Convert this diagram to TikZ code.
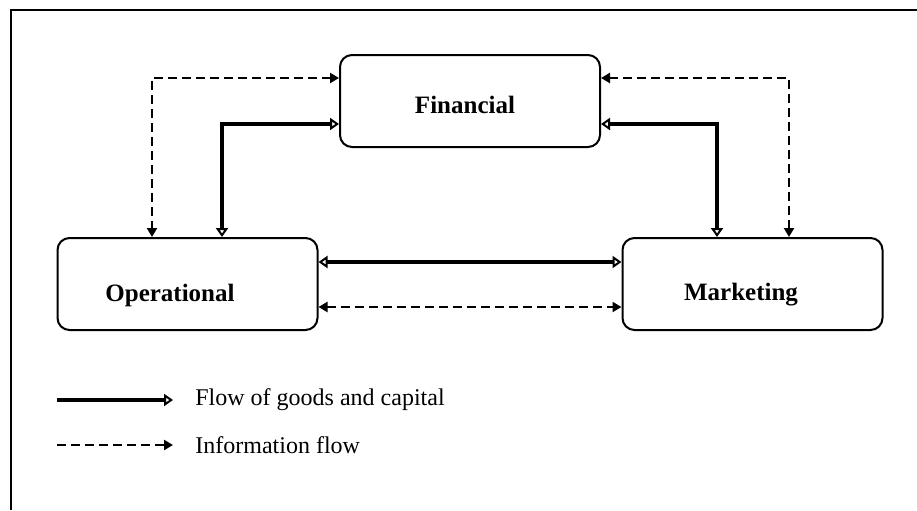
\documentclass[tikz,border=0pt]{standalone}
\usepackage{fontspec}
\setmainfont{Liberation Serif}
\usetikzlibrary{arrows.meta}

\tikzset{
    gtip/.tip={Triangle[open, length=4.5pt, width=6pt, line width=1pt]},
    itip/.tip={Triangle[length=4.5pt, width=5pt]}
}

\begin{document}
\begin{tikzpicture}[
    x=0.5pt, y=-0.5pt,
    unit/.style={rectangle, draw, line width=1pt, rounded corners=6pt, minimum width=130pt, minimum height=46pt},
    lbl/.style={font=\fontsize{12.5}{15}\selectfont\bfseries, inner sep=0pt},
    legtxt/.style={font=\fontsize{12}{14}\selectfont, anchor=west, inner sep=0pt},
    goods/.style={draw, line width=2.4pt, gtip-gtip},
    info/.style={draw, line width=1.4pt, dash pattern=on 4.5pt off 2.5pt, itip-itip}
]
    \useasboundingbox (0,0) rectangle (917,510);
    \draw [line width=0.7pt] (917,10) -- (11,10) -- (11,510);

    \node [unit] (fin) at (470,101) {};
    \node [unit] (ops) at (187.5,284) {};
    \node [unit] (mkt) at (752.5,284) {};

    \node [lbl] (finlbl) at (465,105) {Financial};
    \node [lbl] (opslbl) at (170,295) {Operational};
    \node [lbl] (mktlbl) at (741,295) {Marketing};

    \coordinate (dl) at (152,78);
    \coordinate (gl) at (222,124);
    \coordinate (dr) at (789,78);
    \coordinate (gr) at (717,124);
    \coordinate (gh) at (0,262);
    \coordinate (dh) at (0,307);

    \draw [info] (fin.west |- dl) -| (dl |- ops.north);
    \draw [goods] (fin.west |- gl) -| (gl |- ops.north);
    \draw [info] (fin.east |- dr) -| (dr |- mkt.north);
    \draw [goods] (fin.east |- gr) -| (gr |- mkt.north);

    \draw [goods] (ops.east |- gh) -- (mkt.west |- gh);
    \draw [info] (ops.east |- dh) -- (mkt.west |- dh);

    % legend
    \coordinate (s1) at (57,400);
    \coordinate (e1) at (173,400);
    \coordinate (s2) at (57,445);
    \coordinate (e2) at (173,445);
    \node [legtxt] (goodstxt) at (195,400) {Flow of goods and capital};
    \node [legtxt] (infotxt) at (195,445) {Information flow};
    \draw [goods, -gtip] (s1) -- (e1);
    \draw [info, -itip] (s2) -- (e2);
\end{tikzpicture}
\end{document}
